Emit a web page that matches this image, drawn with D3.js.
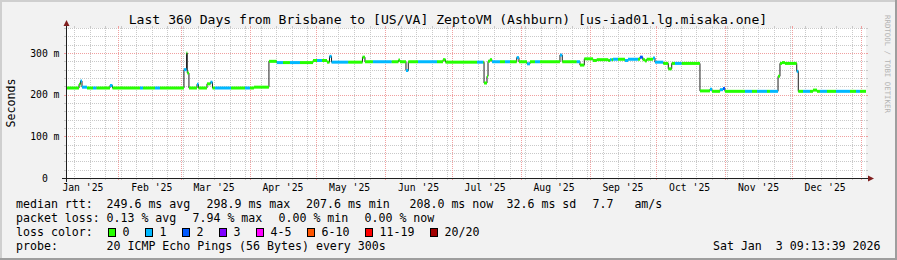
<!DOCTYPE html>
<html><head><meta charset="utf-8">
<script src="https://cdn.jsdelivr.net/npm/d3@7"></script>
<style>
html,body{margin:0;padding:0;background:#f2f2f2;}
svg{display:block;}
text{font-family:"DejaVu Sans Mono",monospace;white-space:pre;}
</style>
</head><body>
<svg id="chart" width="897" height="260"></svg>
<script>
// ---------------- data ----------------
const titleText = "Last 360 Days from Brisbane to [US/VA] ZeptoVM (Ashburn) [us-iad01.lg.misaka.one]";
const startTime = "2025-01-08T09:13:39";
const endTime = "2026-01-03T09:13:39";

// start of each RRD step (UTC, to the hour)
const stepStart = [
 "2025-01-08T09","2025-01-14T06","2025-01-14T22","2025-01-15T14","2025-01-17T20","2025-01-20T13","2025-01-22T03",
 "2025-01-28T04","2025-01-29T07","2025-02-10T16","2025-02-12T01","2025-02-17T10","2025-02-19T16","2025-03-02T11",
 "2025-03-03T15","2025-03-03T23","2025-03-04T17","2025-03-08T08","2025-03-09T00","2025-03-12T20","2025-03-14T10",
 "2025-03-15T07","2025-03-16T10","2025-03-23T15","2025-03-29T22","2025-04-01T04","2025-04-02T23","2025-04-09T17",
 "2025-04-13T05","2025-04-16T01","2025-04-19T04","2025-04-23T16","2025-04-29T13","2025-05-01T08","2025-05-03T14",
 "2025-05-05T20","2025-05-06T23","2025-05-07T21","2025-05-15T10","2025-05-21T19","2025-05-22T22","2025-05-26T12",
 "2025-06-03T23","2025-06-07T00","2025-06-07T16","2025-06-10T09","2025-06-11T10","2025-06-15T19","2025-06-24T08",
 "2025-06-27T01","2025-06-28T04","2025-07-12T08","2025-07-15T04","2025-07-15T12","2025-07-16T20","2025-07-17T07",
 "2025-07-18T04","2025-07-19T02","2025-07-22T16","2025-07-24T22","2025-07-27T04","2025-07-30T05","2025-07-31T05",
 "2025-08-03T20","2025-08-05T04","2025-08-07T10","2025-08-09T16","2025-08-18T16","2025-08-19T17","2025-08-26T05",
 "2025-08-27T16","2025-08-29T15","2025-09-02T13","2025-09-04T05","2025-09-09T10","2025-09-10T04","2025-09-10T23",
 "2025-09-11T13","2025-09-13T19","2025-09-16T22","2025-09-18T07","2025-09-22T19","2025-09-23T16","2025-09-24T22",
 "2025-09-25T22","2025-09-26T17","2025-09-29T13","2025-09-30T10","2025-10-04T04","2025-10-06T10","2025-10-07T23",
 "2025-10-09T10","2025-10-12T11","2025-10-20T16","2025-10-25T04","2025-10-26T02","2025-10-27T10","2025-10-29T16",
 "2025-10-31T01","2025-10-31T22","2025-11-09T22","2025-11-13T02","2025-11-15T08","2025-11-19T20","2025-11-21T04",
 "2025-11-24T19","2025-11-25T16","2025-11-26T14","2025-11-27T22","2025-12-03T05","2025-12-03T22","2025-12-06T01",
 "2025-12-09T04","2025-12-10T13","2025-12-12T08","2025-12-13T16","2025-12-16T20","2025-12-20T21","2025-12-27T04",
 "2025-12-29T21","2025-12-31T16"
];
// median rtt (ms) of each step
const medianMs = [
 216,225,233,218,216,216,216,
 222,216,216,216,216,216,260,
 300,252,216,225,216,226,230,
 216,216,216,216,216,218,280,
 277,277,277,277,282,282,282,
 278,292,278,278,290,279,279,
 279,283,279,258,279,279,279,
 284,278,278,278,228,244,280,
 284,279,279,279,279,289,279,
 274,279,279,279,295,279,279,
 271,286,282,284,282,284,284,
 285,285,282,285,285,290,284,
 281,285,288,278,275,262,275,
 275,275,209,213,208,208,212,
 215,208,208,208,208,208,208,
 244,275,277,275,256,208,208,
 208,211,208,208,208,208,208,
 208,208
];
// lost pings (of 20) in each step
const lossPings = [
 0,0,1,1,0,1,0,
 1,0,1,0,1,0,1,
 0,0,0,1,0,0,1,
 0,1,0,1,0,0,0,
 1,0,1,0,0,1,0,
 0,1,1,0,0,0,1,
 0,0,0,1,0,1,0,
 0,0,1,0,0,0,0,
 0,1,0,1,0,1,0,
 1,0,1,0,1,0,1,
 0,0,0,0,0,1,0,
 1,0,1,1,0,2,0,
 0,0,1,1,0,0,0,
 1,0,0,1,0,0,1,
 2,0,1,0,1,0,1,
 0,0,0,0,1,0,1,
 0,0,0,1,0,1,0,
 1,0
];

const lossLabels = ["0","1","2","3","4-5","6-10","11-19","20/20"];
const lossUpper  = [0,1,2,3,5,10,19,20];
const lossColors = ["#26ff00","#00b8ff","#0059ff","#7e00ff","#ff00ff","#ff5500","#ff0000","#a10000"];

const yTickValues = [0,100,200,300];
const yTickLabels = ["0","100 m","200 m","300 m"];

const medianStats = ["249.6 ms avg","298.9 ms max","207.6 ms min","208.0 ms now","32.6 ms sd","7.7   am/s"];
const lossStats   = ["0.13 % avg","7.94 % max","0.00 % min","0.00 % now"];
const probeText   = "20 ICMP Echo Pings (56 Bytes) every 300s";
const stampText   = "Sat Jan  3 09:13:39 2026";

// ---------------- drawing ----------------
const W = 897, H = 260;
const X0 = 66, X1 = 866, Y0 = 178, Y1 = 28;
const svg = d3.select("#chart");
const parseStep = d3.utcParse("%Y-%m-%dT%H");
const parseFull = d3.utcParse("%Y-%m-%dT%H:%M:%S");
const t0 = parseFull(startTime), t1 = parseFull(endTime);

const x = d3.scaleUtc().domain([t0, t1]).range([X0, X1]);
const y = d3.scaleLinear().domain([0, 360]).range([Y0, Y1]);
const px = v => Math.round(v) + 0.5;

const MONO = "DejaVu Sans Mono";

// background + 3D frame
svg.append("rect").attr("width", W).attr("height", H).attr("fill", "#f2f2f2");
svg.append("path").attr("d", `M0,${H} V0 H${W}`).attr("fill","none").attr("stroke","#cfcfcf").attr("stroke-width",4);
svg.append("path").attr("d", `M0,${H} H${W} V0`).attr("fill","none").attr("stroke","#9e9e9e").attr("stroke-width",4);

// canvas
svg.append("rect").attr("x", X0).attr("y", Y1).attr("width", X1 - X0).attr("height", Y0 - Y1).attr("fill", "#ffffff");

const grid = svg.append("g");
const minorCol = "#c9c9c9", majorCol = "#f0a0a0";

// horizontal grid
const hMinor = d3.range(20, 361, 20).filter(v => v % 100 !== 0);
function hLine(v, col) {
  const yy = px(y(v));
  grid.append("line").attr("x1", X0 - 2).attr("x2", X1 + 2).attr("y1", yy).attr("y2", yy)
    .attr("stroke", col).attr("stroke-dasharray", "1,1");
  grid.append("line").attr("x1", X0 - 2).attr("x2", X0).attr("y1", yy).attr("y2", yy).attr("stroke", col);
  grid.append("line").attr("x1", X1).attr("x2", X1 + 2).attr("y1", yy).attr("y2", yy).attr("stroke", col);
}
hMinor.forEach(v => hLine(v, minorCol));
yTickValues.forEach(v => hLine(v, majorCol));

// vertical grid
function vLine(t, col) {
  const xx = px(x(t));
  grid.append("line").attr("y1", Y1 - 2).attr("y2", Y0 + 2).attr("x1", xx).attr("x2", xx)
    .attr("stroke", col).attr("stroke-dasharray", "1,1");
  grid.append("line").attr("y1", Y0).attr("y2", Y0 + 2).attr("x1", xx).attr("x2", xx).attr("stroke", col);
  grid.append("line").attr("y1", Y1 - 2).attr("y2", Y1).attr("x1", xx).attr("x2", xx).attr("stroke", col);
}
d3.utcSunday.range(t0, t1).forEach(t => vLine(t, minorCol));
const months = d3.utcMonth.range(d3.utcMonth.ceil(t0), t1);
months.forEach(t => vLine(t, majorCol));

// data
const times = stepStart.map(parseStep);
const pts = times.map((t, i) => [t, medianMs[i]]);
pts.push([t1, medianMs[medianMs.length - 1]]);
const line = d3.line().x(d => x(d[0])).y(d => y(d[1])).curve(d3.curveStepAfter);
svg.append("path").attr("d", line(pts)).attr("fill", "none").attr("stroke", "#1e1e1e").attr("stroke-width", 1);

const lossIdx = n => lossUpper.findIndex(u => n <= u);
const segs = times.map((t, i) => ({ a: t, b: i + 1 < times.length ? times[i + 1] : t1, v: medianMs[i], l: lossPings[i] }));
svg.append("g").selectAll("line").data(segs).join("line")
  .attr("x1", d => x(d.a)).attr("x2", d => x(d.b))
  .attr("y1", d => y(d.v)).attr("y2", d => y(d.v))
  .attr("stroke", d => lossColors[lossIdx(d.l)]).attr("stroke-width", 3);

// axes
const axisCol = "#1f1f1f", arrowCol = "#801f1f";
svg.append("line").attr("x1", X0 - 4).attr("x2", X1 + 4).attr("y1", Y0 + 0.5).attr("y2", Y0 + 0.5).attr("stroke", axisCol);
svg.append("line").attr("x1", X0 + 0.5).attr("x2", X0 + 0.5).attr("y1", Y0 + 4).attr("y2", Y1 - 4).attr("stroke", axisCol);
svg.append("path").attr("d", `M${X1 + 2},${Y0 - 2.5} L${X1 + 8},${Y0 + 0.5} L${X1 + 2},${Y0 + 3.5} Z`).attr("fill", arrowCol);
svg.append("path").attr("d", `M${X0 - 2.5},${Y1 - 2} L${X0 + 0.5},${Y1 - 8} L${X0 + 3.5},${Y1 - 2} Z`).attr("fill", arrowCol);

// y labels
svg.append("g").selectAll("text").data(yTickValues).join("text")
  .attr("x", (d, i) => yTickLabels[i].includes("m") ? 59.5 : 47.8)
  .attr("y", d => y(d) + 3.6)
  .attr("text-anchor", "end").attr("font-size", "9.75px").attr("fill", "#000")
  .text((d, i) => yTickLabels[i]);

// x labels: centered on month start + 15 days
const fmt = d3.utcFormat("%b '%y");
const labelMonths = d3.utcMonth.range(d3.utcMonth.floor(t0), t1).filter(m => {
  const c = d3.utcDay.offset(m, 15); return c >= t0 && c <= t1;
});
svg.append("g").selectAll("text").data(labelMonths).join("text")
  .attr("x", d => x(d3.utcDay.offset(d, 15)))
  .attr("y", 191)
  .attr("text-anchor", "middle").attr("font-size", "9.75px").attr("fill", "#000")
  .text(d => fmt(d));

// y axis title
svg.append("text").attr("transform", "translate(15,103) rotate(-90)")
  .attr("text-anchor", "middle").attr("font-size", "11.6px").text("Seconds");

// title
svg.append("text").attr("x", 448).attr("y", 24).attr("text-anchor", "middle")
  .attr("font-size", "13.1px").text(titleText);

// watermark
svg.append("text").attr("transform", "translate(885,15) rotate(90)")
  .attr("font-size", "7.4px").attr("fill", "#b4b4b4").text("RRDTOOL / TOBI OETIKER");

// legend
const LF = "11.6px";
const rows = [207.5, 221.5, 235.5, 249.5];
const leg = svg.append("g").attr("font-size", LF).attr("fill", "#000");
leg.append("text").attr("x", 16).attr("y", rows[0]).text("median rtt:");
const medX = [106.5, 206.5, 306, 409.5, 506.5, 592.5];
medianStats.forEach((s, i) => leg.append("text").attr("x", medX[i]).attr("y", rows[0]).text(s));
leg.append("text").attr("x", 16).attr("y", rows[1]).text("packet loss:");
const lossX = [106.5, 192.5, 278.5, 364.5];
lossStats.forEach((s, i) => leg.append("text").attr("x", lossX[i]).attr("y", rows[1]).text(s));
leg.append("text").attr("x", 16).attr("y", rows[2]).text("loss color:");
let bx = 108;
lossLabels.forEach((lab, i) => {
  leg.append("rect").attr("x", bx + 0.5).attr("y", 228.5).attr("width", 7).attr("height", 8)
    .attr("fill", lossColors[i]).attr("stroke", "#000").attr("stroke-width", 1);
  leg.append("text").attr("x", bx + 14.5).attr("y", rows[2]).text(lab);
  bx += 30 + 7 * lab.length;
});
leg.append("text").attr("x", 16).attr("y", rows[3]).text("probe:");
leg.append("text").attr("x", 106.5).attr("y", rows[3]).text(probeText);
leg.append("text").attr("x", 880.5).attr("y", rows[3]).attr("text-anchor", "end").text(stampText);
</script>
</body></html>
